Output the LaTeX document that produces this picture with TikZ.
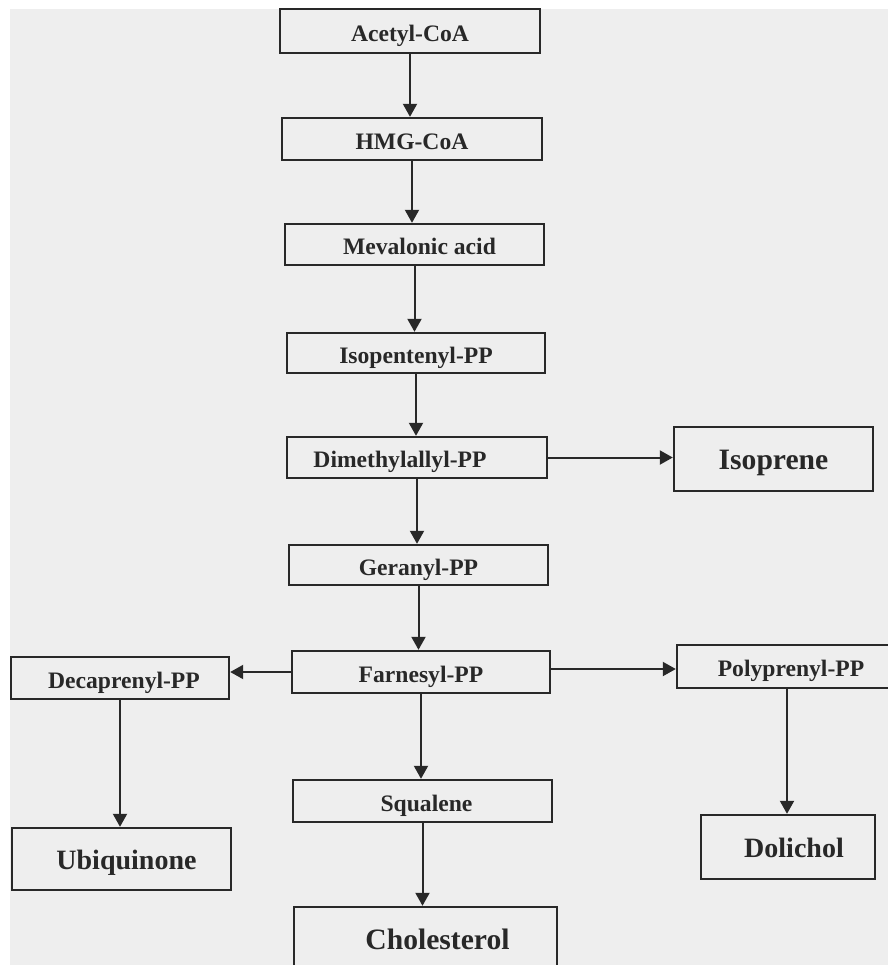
\documentclass[tikz,border=0pt]{standalone}
\usepackage{fontspec}
\setmainfont{Liberation Serif}
\usepackage{xcolor}
\usetikzlibrary{arrows.meta}
\definecolor{paper}{HTML}{EEEEEE}
\definecolor{ink}{HTML}{282828}

\tikzset{
  stepbox/.style={draw=ink,line width=1.2pt,inner sep=0pt,text=ink,
    font=\bfseries\fontsize{11.8}{13}\selectfont,text height=1.0em,text depth=0pt},
  endbox/.style={stepbox,font=\bfseries\fontsize{14.8}{17}\selectfont},
  sz/.style 2 args={minimum width=#1,minimum height=#2},
  flow/.style={draw=ink,line width=1pt,-{Triangle[length=6.5pt,width=7pt]}}
}

\begin{document}
\begin{tikzpicture}[x=0.5pt,y=-0.5pt]
 \clip (0,0) rectangle (888,965);
 \fill[white] (0,0) rectangle (888,965);
 \fill[paper] (10,9) rectangle (888,965);
 % main chain
 \node[stepbox,sz={130pt}{22pt}] (acetyl) at (410,31) {Acetyl-CoA};
 \node[stepbox,sz={130pt}{21pt}] (hmg) at (412,139) {HMG-CoA};
 \node[stepbox,sz={129.5pt}{20.5pt}] (meva) at (414.5,244.5) {\hspace*{5pt}Mevalonic acid};
 \node[stepbox,sz={129pt}{20pt}] (ipp) at (416,353) {Isopentenyl-PP};
 \node[stepbox,sz={130pt}{20.5pt}] (dmapp) at (417,457.5) {Dimethylallyl-PP\hspace*{17pt}};
 \node[endbox,sz={99.5pt}{32pt}] (isoprene) at (773.5,459) {Isoprene};
 \node[stepbox,sz={129.5pt}{20pt}] (gpp) at (418.5,565) {Geranyl-PP};
 \node[stepbox,sz={129pt}{21pt}] (fpp) at (421,672) {Farnesyl-PP};
 % branches
 \node[stepbox,sz={109pt}{21pt}] (deca) at (120,678) {\hspace*{4pt}Decaprenyl-PP};
 \node[stepbox,sz={114pt}{21.5pt}] (poly) at (791,666.5) {Polyprenyl-PP};
 \node[stepbox,sz={129.5pt}{21pt}] (squa) at (422.5,801) {\hspace*{4pt}Squalene};
 \node[endbox,font=\bfseries\fontsize{14}{16}\selectfont,sz={109.5pt}{31pt}] (ubi) at (121.5,859) {\hspace*{5pt}Ubiquinone};
 \node[endbox,font=\bfseries\fontsize{14}{16}\selectfont,sz={87pt}{32pt}] (doli) at (788,847) {\hspace*{6pt}Dolichol};
 \node[endbox,sz={131.5pt}{32.5pt}] (chol) at (425.5,939.5) {\hspace*{12pt}Cholesterol};
 % arrows
 \draw[flow] (acetyl.south) -- (acetyl.south |- hmg.north);
 \draw[flow] (hmg.south) -- (hmg.south |- meva.north);
 \draw[flow] (meva.south) -- (meva.south |- ipp.north);
 \draw[flow] (ipp.south) -- (ipp.south |- dmapp.north);
 \draw[flow] (dmapp.east) -- (dmapp.east -| isoprene.west);
 \draw[flow] (dmapp.south) -- (dmapp.south |- gpp.north);
 \draw[flow] (gpp.south) -- (gpp.south |- fpp.north);
 \draw[flow] (fpp.west) -- (fpp.west -| deca.east);
 \draw[flow] (fpp.east) ++(0,-3) coordinate (fppr) -- (fppr -| poly.west);
 \draw[flow] (fpp.south) -- (fpp.south |- squa.north);
 \draw[flow] (deca.south) -- (deca.south |- ubi.north);
 \draw[flow] (poly.south) ++(-4,0) coordinate (polyb) -- (polyb |- doli.north);
 \draw[flow] (squa.south) -- (squa.south |- chol.north);
\end{tikzpicture}
\end{document}
